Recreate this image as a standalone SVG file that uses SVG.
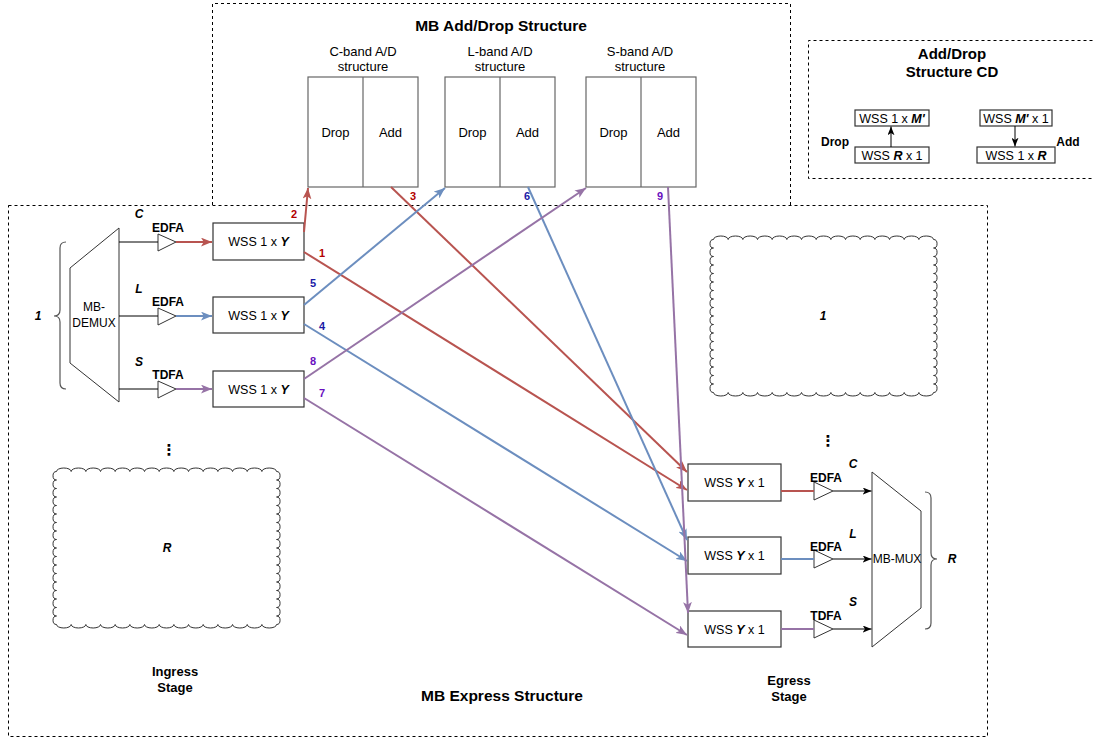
<svg xmlns="http://www.w3.org/2000/svg" xmlns:xlink="http://www.w3.org/1999/xlink" width="1095" height="738" viewBox="0 0 1095 738">
  <style>
    text { font-family: "Liberation Sans", Arial, sans-serif; font-size: 12px; fill: #000; text-anchor: middle; }
    .b { font-weight: bold; }
    .bi { font-weight: bold; font-style: italic; }
    .lbl { font-size: 13px; }
    .w { font-size: 12.5px; }
    .dots { font-family: "DejaVu Sans", sans-serif; font-weight: bold; font-size: 15px; }
    .title { font-weight: bold; font-size: 15.5px; }
    .stage { font-weight: bold; font-size: 13px; }
    .num { font-weight: bold; font-size: 11px; }
    .nr { fill: #b20000; }
    .nb { fill: #1a1aa6; }
    .np { fill: #6a10c0; }
    .frame { fill: none; stroke: #000; stroke-width: 1; stroke-dasharray: 3 3; }
    .wss { fill: #fff; stroke: #333; stroke-width: 1.2; }
    .ad { fill: #fff; stroke: #666; stroke-width: 1.2; }
    .amp { fill: #fff; stroke: #333; stroke-width: 1; }
    .mux { fill: #fff; stroke: #333; stroke-width: 1; }
    .brace { fill: none; stroke: #555; stroke-width: 1.2; }
    .cloud { fill: #fff; stroke: #333; stroke-width: 1; }
    .blk { fill: none; stroke: #000; stroke-width: 1; }
    .red { fill: none; stroke: #b85450; stroke-width: 2; }
    .blue { fill: none; stroke: #6c8ebf; stroke-width: 2; }
    .purple { fill: none; stroke: #9673a6; stroke-width: 2; }
  </style>
  <defs>
    <marker id="arR" viewBox="0 0 10 8" refX="10" refY="4" markerWidth="11" markerHeight="9" markerUnits="userSpaceOnUse" orient="auto">
      <path d="M0,0 L10,4 L0,8 L2.5,4 Z" fill="#b85450"/>
    </marker>
    <marker id="arB" viewBox="0 0 10 8" refX="10" refY="4" markerWidth="11" markerHeight="9" markerUnits="userSpaceOnUse" orient="auto">
      <path d="M0,0 L10,4 L0,8 L2.5,4 Z" fill="#6c8ebf"/>
    </marker>
    <marker id="arP" viewBox="0 0 10 8" refX="10" refY="4" markerWidth="11" markerHeight="9" markerUnits="userSpaceOnUse" orient="auto">
      <path d="M0,0 L10,4 L0,8 L2.5,4 Z" fill="#9673a6"/>
    </marker>
    <marker id="arK" viewBox="0 0 10 8" refX="10" refY="4" markerWidth="9" markerHeight="7" markerUnits="userSpaceOnUse" orient="auto">
      <path d="M0,0 L10,4 L0,8 L2.5,4 Z" fill="#000"/>
    </marker>
    <!-- scalloped rectangle, 220 x 153 -->
    <path id="cloudShape" d="M0,0
      a7.335,3.5 0 0 1 14.67,0 a7.335,3.5 0 0 1 14.67,0 a7.335,3.5 0 0 1 14.67,0 a7.335,3.5 0 0 1 14.67,0 a7.335,3.5 0 0 1 14.67,0
      a7.335,3.5 0 0 1 14.67,0 a7.335,3.5 0 0 1 14.67,0 a7.335,3.5 0 0 1 14.67,0 a7.335,3.5 0 0 1 14.67,0 a7.335,3.5 0 0 1 14.67,0
      a7.335,3.5 0 0 1 14.67,0 a7.335,3.5 0 0 1 14.67,0 a7.335,3.5 0 0 1 14.67,0 a7.335,3.5 0 0 1 14.67,0 a7.335,3.5 0 0 1 14.67,0
      a3.5,4.25 0 0 1 0,8.5 a3.5,4.25 0 0 1 0,8.5 a3.5,4.25 0 0 1 0,8.5 a3.5,4.25 0 0 1 0,8.5 a3.5,4.25 0 0 1 0,8.5 a3.5,4.25 0 0 1 0,8.5
      a3.5,4.25 0 0 1 0,8.5 a3.5,4.25 0 0 1 0,8.5 a3.5,4.25 0 0 1 0,8.5 a3.5,4.25 0 0 1 0,8.5 a3.5,4.25 0 0 1 0,8.5 a3.5,4.25 0 0 1 0,8.5
      a3.5,4.25 0 0 1 0,8.5 a3.5,4.25 0 0 1 0,8.5 a3.5,4.25 0 0 1 0,8.5 a3.5,4.25 0 0 1 0,8.5 a3.5,4.25 0 0 1 0,8.5 a3.5,4.25 0 0 1 0,8.5
      a7.335,3.5 0 0 1 -14.67,0 a7.335,3.5 0 0 1 -14.67,0 a7.335,3.5 0 0 1 -14.67,0 a7.335,3.5 0 0 1 -14.67,0 a7.335,3.5 0 0 1 -14.67,0
      a7.335,3.5 0 0 1 -14.67,0 a7.335,3.5 0 0 1 -14.67,0 a7.335,3.5 0 0 1 -14.67,0 a7.335,3.5 0 0 1 -14.67,0 a7.335,3.5 0 0 1 -14.67,0
      a7.335,3.5 0 0 1 -14.67,0 a7.335,3.5 0 0 1 -14.67,0 a7.335,3.5 0 0 1 -14.67,0 a7.335,3.5 0 0 1 -14.67,0 a7.335,3.5 0 0 1 -14.67,0
      a3.5,4.25 0 0 1 0,-8.5 a3.5,4.25 0 0 1 0,-8.5 a3.5,4.25 0 0 1 0,-8.5 a3.5,4.25 0 0 1 0,-8.5 a3.5,4.25 0 0 1 0,-8.5 a3.5,4.25 0 0 1 0,-8.5
      a3.5,4.25 0 0 1 0,-8.5 a3.5,4.25 0 0 1 0,-8.5 a3.5,4.25 0 0 1 0,-8.5 a3.5,4.25 0 0 1 0,-8.5 a3.5,4.25 0 0 1 0,-8.5 a3.5,4.25 0 0 1 0,-8.5
      a3.5,4.25 0 0 1 0,-8.5 a3.5,4.25 0 0 1 0,-8.5 a3.5,4.25 0 0 1 0,-8.5 a3.5,4.25 0 0 1 0,-8.5 a3.5,4.25 0 0 1 0,-8.5 a3.5,4.25 0 0 1 0,-8.5 Z"/>
  </defs>

  <rect width="1095" height="738" fill="#fff"/>

  <!-- outer frames -->
  <g id="addDropFrame">
    <path class="frame" d="M212.5,205 V3.5 H790.5 V205"/>
    <text class="title" x="501" y="31">MB Add/Drop Structure</text>
  </g>
  <g id="expressFrame">
    <rect class="frame" x="8.5" y="205.5" width="979" height="531"/>
    <text class="title" x="502" y="701">MB Express Structure</text>
  </g>

  <!-- band add/drop blocks -->
  <g id="cBandAD">
    <text class="lbl" x="363" y="56">C-band A/D</text>
    <text class="lbl" x="363" y="71">structure</text>
    <rect class="ad" x="308" y="77" width="110" height="110"/>
    <line class="ad" x1="363" y1="77" x2="363" y2="187"/>
    <text class="lbl" x="335.5" y="137">Drop</text>
    <text class="lbl" x="390.5" y="137">Add</text>
  </g>
  <g id="lBandAD">
    <text class="lbl" x="500" y="56">L-band A/D</text>
    <text class="lbl" x="500" y="71">structure</text>
    <rect class="ad" x="445" y="77" width="110" height="110"/>
    <line class="ad" x1="500" y1="77" x2="500" y2="187"/>
    <text class="lbl" x="472.5" y="137">Drop</text>
    <text class="lbl" x="527.5" y="137">Add</text>
  </g>
  <g id="sBandAD">
    <text class="lbl" x="640" y="56">S-band A/D</text>
    <text class="lbl" x="640" y="71">structure</text>
    <rect class="ad" x="586" y="77" width="110" height="110"/>
    <line class="ad" x1="641" y1="77" x2="641" y2="187"/>
    <text class="lbl" x="613.5" y="137">Drop</text>
    <text class="lbl" x="668.5" y="137">Add</text>
  </g>

  <!-- legend: add/drop structure CD -->
  <g id="legendCD">
    <path class="frame" d="M1092.5,40.5 H808.5 V178.5 H1092.5"/>
    <text class="title" x="952" y="59" style="font-size:15px">Add/Drop</text>
    <text class="title" x="952" y="77" style="font-size:15px">Structure CD</text>
    <rect class="wss" x="855" y="110" width="74" height="16"/>
    <text class="w" x="892" y="122.5">WSS 1 x <tspan class="bi">M'</tspan></text>
    <rect class="wss" x="855" y="147" width="74" height="16"/>
    <text class="w" x="892" y="159.5">WSS <tspan class="bi">R</tspan> x 1</text>
    <line class="blk" x1="891" y1="147" x2="891" y2="126.5" marker-end="url(#arK)"/>
    <text class="b" x="835" y="146">Drop</text>
    <rect class="wss" x="980" y="110" width="72" height="16"/>
    <text class="w" x="1016" y="122.5">WSS <tspan class="bi">M'</tspan> x 1</text>
    <rect class="wss" x="977" y="147" width="78" height="16"/>
    <text class="w" x="1016" y="159.5">WSS 1 x <tspan class="bi">R</tspan></text>
    <line class="blk" x1="1015" y1="126" x2="1015" y2="146.5" marker-end="url(#arK)"/>
    <text class="b" x="1068" y="146">Add</text>
  </g>

  <!-- ingress stage -->
  <g id="ingressBrace">
    <path class="brace" d="M66,242 Q60,242 60,248 L60,310 Q60,316 54,316 Q60,316 60,322 L60,383 Q60,389 66,389"/>
    <text class="bi" x="38" y="320">1</text>
  </g>
  <g id="mbDemux">
    <polygon class="mux" points="70,268 119,228 119,402 70,363"/>
    <text x="94" y="311">MB-</text>
    <text x="94" y="327">DEMUX</text>
  </g>
  <g id="ampInC">
    <polygon class="amp" points="158,234 176,242 158,251"/>
    <text class="bi" x="139" y="218">C</text>
    <text class="b" x="168" y="232">EDFA</text>
  </g>
  <g id="ampInL">
    <polygon class="amp" points="158,308 176,316 158,325"/>
    <text class="bi" x="139" y="293">L</text>
    <text class="b" x="168" y="306">EDFA</text>
  </g>
  <g id="ampInS">
    <polygon class="amp" points="158,381 176,389 158,398"/>
    <text class="bi" x="139" y="366">S</text>
    <text class="b" x="168" y="379">TDFA</text>
  </g>
  <g id="wssInC">
    <rect class="wss" x="213" y="223" width="91" height="37"/>
    <text class="w" x="258.5" y="246">WSS 1 x <tspan class="bi">Y</tspan></text>
  </g>
  <g id="wssInL">
    <rect class="wss" x="213" y="297" width="91" height="36"/>
    <text class="w" x="258.5" y="319.5">WSS 1 x <tspan class="bi">Y</tspan></text>
  </g>
  <g id="wssInS">
    <rect class="wss" x="213" y="371" width="91" height="36"/>
    <text class="w" x="258.5" y="393.5">WSS 1 x <tspan class="bi">Y</tspan></text>
  </g>
  <g id="ingressMore">
    <text class="dots" x="169" y="455">⋮</text>
  </g>
  <g id="ingressR">
    <use href="#cloudShape" xlink:href="#cloudShape" class="cloud" transform="translate(56.5,471.5)"/>
    <text class="bi" x="167" y="552">R</text>
  </g>
  <g id="ingressLabel">
    <text class="stage" x="175" y="676">Ingress</text>
    <text class="stage" x="175" y="692">Stage</text>
  </g>

  <!-- egress stage -->
  <g id="egress1">
    <use href="#cloudShape" xlink:href="#cloudShape" class="cloud" transform="translate(713.5,239.5)"/>
    <text class="bi" x="823" y="320">1</text>
  </g>
  <g id="egressMore">
    <text class="dots" x="828" y="446">⋮</text>
  </g>
  <g id="wssOutC">
    <rect class="wss" x="688" y="464" width="93" height="37"/>
    <text class="w" x="734.5" y="487">WSS <tspan class="bi">Y</tspan> x 1</text>
  </g>
  <g id="wssOutL">
    <rect class="wss" x="688" y="537" width="93" height="37"/>
    <text class="w" x="734.5" y="560">WSS <tspan class="bi">Y</tspan> x 1</text>
  </g>
  <g id="wssOutS">
    <rect class="wss" x="688" y="611" width="93" height="36"/>
    <text class="w" x="734.5" y="633.5">WSS <tspan class="bi">Y</tspan> x 1</text>
  </g>
  <g id="ampOutC">
    <polygon class="amp" points="814,482 833,491 814,500"/>
    <text class="bi" x="853" y="468">C</text>
    <text class="b" x="826" y="482">EDFA</text>
  </g>
  <g id="ampOutL">
    <polygon class="amp" points="814,550 833,559 814,568"/>
    <text class="bi" x="853" y="538">L</text>
    <text class="b" x="826" y="551">EDFA</text>
  </g>
  <g id="ampOutS">
    <polygon class="amp" points="814,620 833,629 814,638"/>
    <text class="bi" x="853" y="606">S</text>
    <text class="b" x="826" y="620">TDFA</text>
  </g>
  <g id="mbMux">
    <polygon class="mux" points="872,472 921,511 921,608 872,647"/>
  </g>
  <g id="egressBrace">
    <path class="brace" d="M925,492 Q931,492 931,498 L931,553 Q931,559 937,559 Q931,559 931,565 L931,623 Q931,629 925,629"/>
    <text class="bi" x="952" y="563">R</text>
  </g>
  <g id="egressLabel">
    <text class="stage" x="789" y="685">Egress</text>
    <text class="stage" x="789" y="701">Stage</text>
  </g>

  <!-- connectors -->
  <g id="connectors">
    <!-- demux / mux links -->
    <line class="blk" x1="119" y1="242" x2="158" y2="242"/>
    <line class="blk" x1="119" y1="316" x2="158" y2="316"/>
    <line class="blk" x1="119" y1="389" x2="158" y2="389"/>
    <line class="red" x1="176" y1="242" x2="212" y2="242" marker-end="url(#arR)"/>
    <line class="blue" x1="176" y1="316" x2="212" y2="316" marker-end="url(#arB)"/>
    <line class="purple" x1="176" y1="389" x2="212" y2="389" marker-end="url(#arP)"/>
    <line class="red" x1="781" y1="491" x2="814" y2="491"/>
    <line class="blue" x1="781" y1="559" x2="814" y2="559"/>
    <line class="purple" x1="781" y1="629" x2="814" y2="629"/>
    <line class="blk" x1="833" y1="491" x2="871.5" y2="491" marker-end="url(#arK)"/>
    <line class="blk" x1="833" y1="559" x2="871.5" y2="559" marker-end="url(#arK)"/>
    <line class="blk" x1="833" y1="629" x2="871.5" y2="629" marker-end="url(#arK)"/>

    <!-- C band -->
    <line class="red" x1="304" y1="232" x2="308" y2="188" marker-end="url(#arR)"/>
    <line class="red" x1="304" y1="252" x2="687" y2="490" marker-end="url(#arR)"/>
    <line class="red" x1="391" y1="187" x2="687" y2="472" marker-end="url(#arR)"/>
    <!-- L band -->
    <line class="blue" x1="304" y1="305" x2="445" y2="188" marker-end="url(#arB)"/>
    <line class="blue" x1="304" y1="324" x2="687" y2="561" marker-end="url(#arB)"/>
    <line class="blue" x1="528" y1="187" x2="687" y2="540" marker-end="url(#arB)"/>
    <!-- S band -->
    <line class="purple" x1="304" y1="379" x2="586" y2="188" marker-end="url(#arP)"/>
    <line class="purple" x1="304" y1="398" x2="687" y2="635" marker-end="url(#arP)"/>
    <line class="purple" x1="668" y1="187" x2="688" y2="613" marker-end="url(#arP)"/>
  </g>

  <!-- connector numbers and MUX caption drawn on top -->
  <g id="connectorLabels">
    <text class="num nr" x="294" y="218">2</text>
    <text class="num nr" x="322" y="257">1</text>
    <text class="num nr" x="413" y="200">3</text>
    <text class="num nb" x="313" y="287">5</text>
    <text class="num nb" x="322" y="330">4</text>
    <text class="num nb" x="527" y="200">6</text>
    <text class="num np" x="313" y="365">8</text>
    <text class="num np" x="322" y="397">7</text>
    <text class="num np" x="660" y="200">9</text>
    <text x="897" y="563">MB-MUX</text>
  </g>
</svg>
